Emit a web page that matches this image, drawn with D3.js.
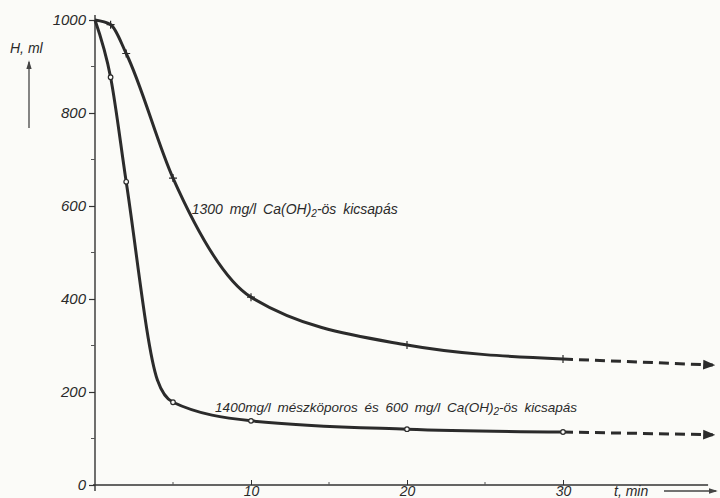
<!DOCTYPE html>
<html>
<head>
<meta charset="utf-8">
<script src="https://cdn.jsdelivr.net/npm/d3@7"></script>
<style>
    body { margin: 0; background: #fbfbf8; }
    svg { display: block; }
    text { font-family: "Liberation Sans", Arial, sans-serif; font-style: italic; fill: #2a2a2a; }
</style>
</head>
<body>
<div id="chart"></div>
<script>
// t, min
const ca1300Times = [0, 1, 2, 5, 10, 20, 30];
// H, ml - 1300 mg/l Ca(OH)2
const ca1300Values = [1000, 990, 928, 660, 404, 301, 271];
// curve 1 extrapolated (dashed) end
const ca1300Tail = [{ x: 30, y: 271 }, { x: 39.6, y: 258 }];

// 1400 mg/l mészkőporos + 600 mg/l Ca(OH)2
const mixTimes = [0, 1, 2, 4, 5, 10, 20, 30];
const mixValues = [1000, 877, 652, 226, 178, 138, 120, 114];
// which points carry a circle (4 min is the unmarked knee)
const mixMarked = [false, true, true, false, true, true, true, true];
const mixTail = [{ x: 30, y: 114 }, { x: 39.6, y: 108 }];

const yMajorTicks = [0, 200, 400, 600, 800, 1000];
const yMinorTicks = [100, 300, 500, 700, 900];
const xMajorTicks = [10, 20, 30];
const xMinorTicks = [5, 15, 25];

var width = 720, height = 498;
var lineColor = "#2b2b2b";

var svg = d3.select("#chart")
    .append("svg")
    .attr("width", width)
    .attr("height", height);

var xScale = d3.scaleLinear()
    .domain([0, 40])
    .range([95, 719]);

var yScale = d3.scaleLinear()
    .domain([0, 1000])
    .range([485, 20]);

// arrow heads
svg.append("defs").append("marker")
    .attr("id", "arrow")
    .attr("viewBox", "0 0 10 10")
    .attr("refX", 8).attr("refY", 5)
    .attr("markerWidth", 4).attr("markerHeight", 4)
    .attr("markerUnits", "strokeWidth")
    .attr("orient", "auto")
    .append("path")
    .attr("d", "M0,1 L10,5 L0,9 z")
    .attr("fill", lineColor);

svg.append("defs").append("marker")
    .attr("id", "arrowSmall")
    .attr("viewBox", "0 0 10 10")
    .attr("refX", 8).attr("refY", 5)
    .attr("markerWidth", 7).attr("markerHeight", 7)
    .attr("markerUnits", "strokeWidth")
    .attr("orient", "auto")
    .append("path")
    .attr("d", "M0,2 L10,5 L0,8 z")
    .attr("fill", "#444");

// y axis
var yAxis = d3.axisLeft(yScale)
    .tickValues(yMajorTicks)
    .tickSize(6)
    .tickPadding(3)
    .tickFormat(d3.format("d"));

var gy = svg.append("g")
    .attr("class", "y-axis")
    .attr("transform", "translate(" + xScale(0) + ",0)")
    .call(yAxis);

gy.select(".domain").remove();
gy.append("line")
    .attr("y1", yScale(0) + 6)
    .attr("y2", yScale(1000) - 5)
    .attr("stroke", "#333")
    .attr("stroke-width", 1.4);
gy.selectAll(".tick line").attr("stroke", "#333").attr("stroke-width", 1.2);
gy.selectAll(".tick text")
    .style("font-size", "15px")
    .attr("fill", "#2a2a2a");

gy.selectAll(".minor")
    .data(yMinorTicks)
    .enter().append("line")
    .attr("class", "minor")
    .attr("x1", -4).attr("x2", 0)
    .attr("y1", d => yScale(d)).attr("y2", d => yScale(d))
    .attr("stroke", "#555");

// x axis
var xAxis = d3.axisBottom(xScale)
    .tickValues(xMajorTicks)
    .tickSize(-5)
    .tickFormat(d3.format("d"));

var gx = svg.append("g")
    .attr("class", "x-axis")
    .attr("transform", "translate(0," + yScale(0) + ")")
    .call(xAxis);

gx.select(".domain").remove();
gx.append("line")
    .attr("x1", xScale(0) - 2)
    .attr("x2", xScale(39.3))
    .attr("stroke", "#333")
    .attr("stroke-width", 1.4);
gx.selectAll(".tick line").attr("stroke", "#333");
// labels sit tight under the axis, near the bottom edge
gx.selectAll(".tick text")
    .attr("y", 11)
    .attr("dy", null)
    .style("font-size", "14px")
    .attr("fill", "#2a2a2a");

gx.selectAll(".minor")
    .data(xMinorTicks)
    .enter().append("line")
    .attr("class", "minor")
    .attr("y1", -3).attr("y2", 0)
    .attr("x1", d => xScale(d)).attr("x2", d => xScale(d))
    .attr("stroke", "#555");

// axis titles
svg.append("text")
    .attr("x", 10).attr("y", 53)
    .style("font-size", "14px")
    .text("H, ml");
svg.append("line")
    .attr("x1", 29).attr("x2", 29)
    .attr("y1", 128).attr("y2", 62)
    .attr("stroke", "#444").attr("stroke-width", 1.3)
    .attr("marker-end", "url(#arrowSmall)");

svg.append("text")
    .attr("x", 614).attr("y", 496)
    .style("font-size", "14px")
    .text("t, min");
svg.append("line")
    .attr("x1", 664).attr("x2", 716)
    .attr("y1", 491).attr("y2", 491)
    .attr("stroke", "#444").attr("stroke-width", 1.3)
    .attr("marker-end", "url(#arrowSmall)");

// curves
var line = d3.line()
    .curve(d3.curveMonotoneX)
    .x(function (d) { return xScale(d.x) })
    .y(function (d) { return yScale(d.y) });

var ca1300 = ca1300Times.map((t, i) => ({ x: t, y: ca1300Values[i] }));
var mix = mixTimes.map((t, i) => ({ x: t, y: mixValues[i], marked: mixMarked[i] }));

[ca1300, mix].forEach(function (dataset) {
    svg.append("path")
        .datum(dataset)
        .attr("fill", "none")
        .attr("stroke", lineColor)
        .attr("stroke-width", 3)
        .attr("stroke-linejoin", "round")
        .attr("d", line);
});

[ca1300Tail, mixTail].forEach(function (dataset) {
    svg.append("path")
        .datum(dataset)
        .attr("fill", "none")
        .attr("stroke", lineColor)
        .attr("stroke-width", 3)
        .attr("stroke-dasharray", "10,6")
        .attr("marker-end", "url(#arrow)")
        .attr("d", d3.line().x(d => xScale(d.x)).y(d => yScale(d.y)));
});

// cross markers on curve 1
svg.selectAll(".cross")
    .data(ca1300.slice(1))
    .enter().append("path")
    .attr("class", "cross")
    .attr("transform", d => "translate(" + xScale(d.x) + "," + yScale(d.y) + ")")
    .attr("d", "M-4,0 H4 M0,-4 V4")
    .attr("stroke", lineColor)
    .attr("stroke-width", 1.2);

// circle markers on curve 2
svg.selectAll(".dot")
    .data(mix.filter(d => d.marked))
    .enter().append("circle")
    .attr("class", "dot")
    .attr("cx", d => xScale(d.x))
    .attr("cy", d => yScale(d.y))
    .attr("r", 2.3)
    .attr("fill", "#fbfbf8")
    .attr("stroke", lineColor)
    .attr("stroke-width", 1.2);

// curve labels
var lab1 = svg.append("text")
    .attr("x", xScale(6.2)).attr("y", yScale(583))
    .style("font-size", "14px")
    .style("word-spacing", "3px");
lab1.append("tspan").text("1300 mg/l Ca(OH)");
lab1.append("tspan").attr("dy", 3).style("font-size", "10px").text("2");
lab1.append("tspan").attr("dy", -3).text("-ös kicsapás");

var lab2 = svg.append("text")
    .attr("x", xScale(7.7)).attr("y", yScale(157))
    .style("font-size", "13.5px")
    .style("word-spacing", "3px");
lab2.append("tspan").text("1400mg/l mészköporos és 600 mg/l Ca(OH)");
lab2.append("tspan").attr("dy", 3).style("font-size", "10px").text("2");
lab2.append("tspan").attr("dy", -3).text("-ös kicsapás");
</script>
</body>
</html>
